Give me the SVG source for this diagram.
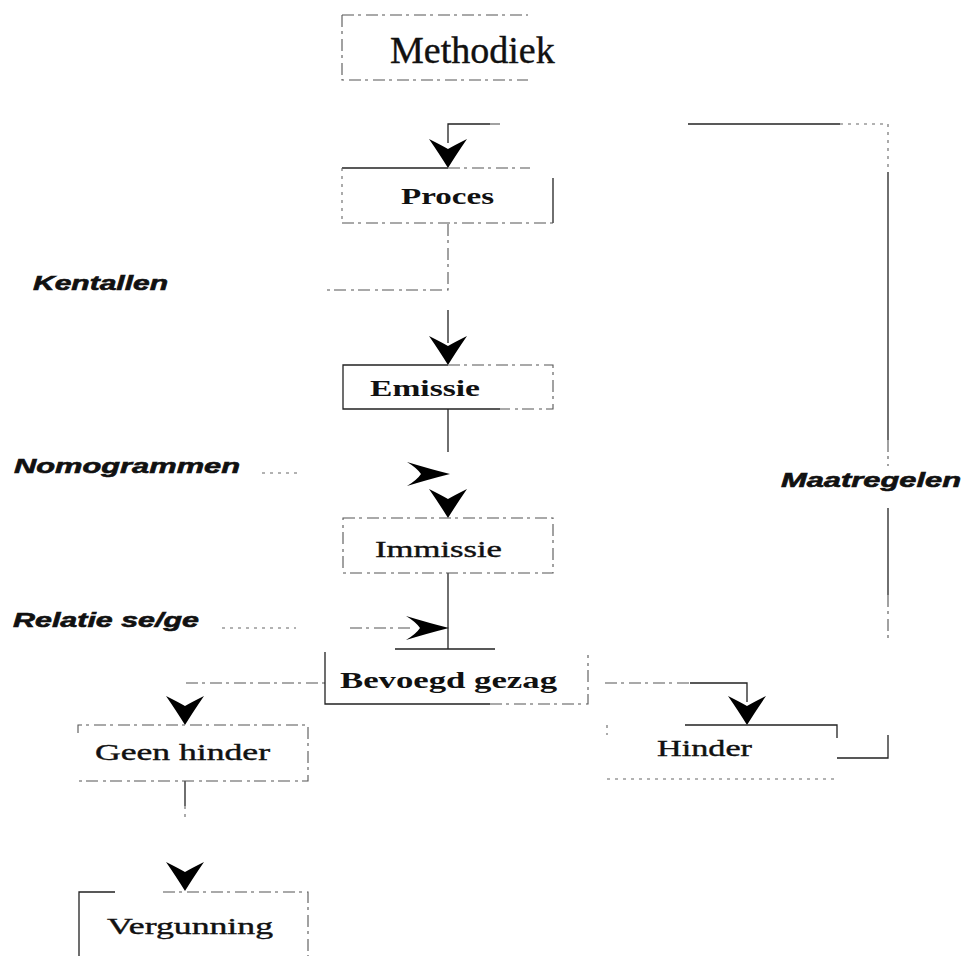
<svg xmlns="http://www.w3.org/2000/svg" width="963" height="956" viewBox="0 0 963 956">
<style>
  .lbl { font-family: "Liberation Serif", "Times New Roman", serif; font-size: 24px; fill: #111; }
  .b { font-weight: bold; }
  .reg { stroke: #111; stroke-width: 0.4; }
  .side { font-family: "Liberation Sans", Arial, sans-serif; font-size: 20px; font-weight: bold; font-style: italic; fill: #111; stroke: #111; stroke-width: 0.6; }
  .solid { fill: none; stroke: #222; stroke-width: 1.3; }
  .dash { fill: none; stroke: #555; stroke-width: 1.1; stroke-dasharray: 12 4 3 5; }
  .dot { fill: none; stroke: #666; stroke-width: 1.1; stroke-dasharray: 3 5; }
  .ah { fill: #000; }
</style>
<defs>
  <path id="ahd" d="M0 0 Q-8 -13 -19 -29 Q-7 -23 0 -19 Q7 -23 19 -29 Q8 -13 0 0 Z"/>
  <path id="ahr" d="M0 0 Q-20 -5 -43 -12 Q-33 -6 -29 0 Q-33 6 -43 12 Q-20 5 0 0 Z"/>
</defs>
<rect width="963" height="956" fill="#fff"/>

<g id="connectors">
  <!-- feedback loop from Hinder to Proces -->
  <path class="solid" d="M448 143 V124 H490"/>
  <path class="dash" d="M490 124 H500"/>
  <path class="solid" d="M688 124 H840"/>
  <path class="dot" d="M840 124 H888 V170"/>
  <path class="solid" d="M888 172 V440"/>
  <path class="dash" d="M888 440 V466"/>
  <path class="solid" d="M888 508 V595"/>
  <path class="dash" d="M888 595 V640"/>
  <path class="solid" d="M837 758 H888 V735"/>
  <use href="#ahd" class="ah" x="448" y="168"/>
  <!-- Proces to Emissie (Kentallen) -->
  <path class="dash" d="M448 224 V290 H322"/>
  <path class="solid" d="M448 310 V343"/>
  <use href="#ahd" class="ah" x="448" y="365"/>
  <!-- Emissie to Immissie (Nomogrammen) -->
  <path class="solid" d="M448 409 V452"/>
  <path class="dot" d="M262 473 H300"/>
  <use href="#ahr" class="ah" x="450" y="474"/>
  <use href="#ahd" class="ah" x="448" y="518"/>
  <!-- Immissie to Bevoegd gezag (Relatie se/ge) -->
  <path class="solid" d="M448 573 V649"/>
  <path class="dot" d="M222 628 H296"/>
  <path class="dash" d="M350 628 H410"/>
  <use href="#ahr" class="ah" x="449" y="628"/>
  <!-- Bevoegd gezag to Geen hinder -->
  <path class="dash" d="M186 683 H325"/>
  <use href="#ahd" class="ah" x="185" y="725"/>
  <!-- Bevoegd gezag to Hinder -->
  <path class="dash" d="M605 683 H690"/>
  <path class="solid" d="M690 683 H747 V702"/>
  <use href="#ahd" class="ah" x="747" y="725"/>
  <!-- Geen hinder to Vergunning -->
  <path class="solid" d="M185 781 V806"/>
  <path class="dot" d="M185 806 V818"/>
  <use href="#ahd" class="ah" x="185" y="891"/>
</g>

<g id="methodiek">
  <path class="dash" d="M342 15 H528 M342 15 V80 H528"/>
  <text class="lbl reg" x="390" y="63" style="font-size:38px">Methodiek</text>
</g>

<g id="proces">
  <path class="solid" d="M342 168 H448"/>
  <path class="dash" d="M448 168 H530"/>
  <path class="solid" d="M553 178 V223"/>
  <path class="dash" d="M342 223 H553"/>
  <path class="dot" d="M342 168 V223"/>
  <text class="lbl b" x="401" y="204" textLength="93" lengthAdjust="spacingAndGlyphs">Proces</text>
</g>

<g id="emissie">
  <path class="solid" d="M448 365 H343 V409 H500"/>
  <path class="dash" d="M448 365 H553 V409 H500"/>
  <text class="lbl b" x="370" y="396" textLength="110" lengthAdjust="spacingAndGlyphs">Emissie</text>
</g>

<g id="immissie">
  <rect class="dash" x="343" y="518" width="210" height="55"/>
  <text class="lbl reg" x="375" y="557" textLength="127" lengthAdjust="spacingAndGlyphs">Immissie</text>
</g>

<g id="bevoegd-gezag">
  <path class="solid" d="M395 649 H495 M325 652 V704 H490"/>
  <path class="dash" d="M490 704 H588 V655"/>
  <text class="lbl b" x="340" y="688" textLength="217" lengthAdjust="spacingAndGlyphs">Bevoegd gezag</text>
</g>

<g id="geen-hinder">
  <path class="dash" d="M78 733 V725 H308 V781 H78"/>
  <text class="lbl reg" x="95" y="760" textLength="175" lengthAdjust="spacingAndGlyphs">Geen hinder</text>
</g>

<g id="hinder">
  <path class="solid" d="M685 725 H837 V738"/>
  <path class="dot" d="M607 779 H837 M607 725 V735"/>
  <text class="lbl reg" x="657" y="756" textLength="95" lengthAdjust="spacingAndGlyphs">Hinder</text>
</g>

<g id="vergunning">
  <path class="solid" d="M79 956 V892 H115"/>
  <path class="dash" d="M163 892 H308 V956"/>
  <text class="lbl reg" x="107" y="934" textLength="166" lengthAdjust="spacingAndGlyphs">Vergunning</text>
</g>

<g id="side-labels">
  <text class="side" x="33" y="290" textLength="135" lengthAdjust="spacingAndGlyphs">Kentallen</text>
  <text class="side" x="14" y="473" textLength="226" lengthAdjust="spacingAndGlyphs">Nomogrammen</text>
  <text class="side" x="13" y="627" textLength="186" lengthAdjust="spacingAndGlyphs">Relatie se/ge</text>
  <text class="side" x="781" y="487" textLength="180" lengthAdjust="spacingAndGlyphs">Maatregelen</text>
</g>
</svg>
